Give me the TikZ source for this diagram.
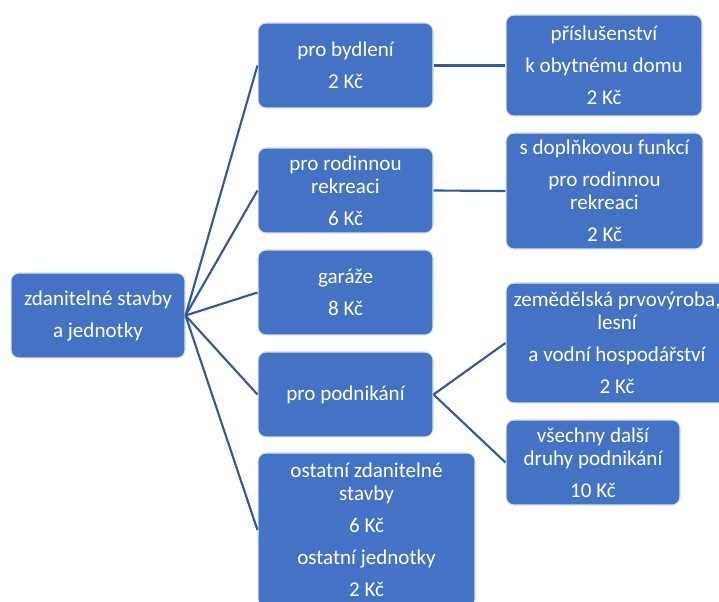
\documentclass[tikz,border=0pt]{standalone}
\usepackage{fontspec}
\setmainfont{Carlito}
\definecolor{blokblue}{RGB}{68,114,196}
\definecolor{linkblue}{RGB}{52,88,160}

\begin{document}
\begin{tikzpicture}[x=0.75pt,y=-0.75pt,
    blok/.style={draw=white!80!blokblue,line width=0.8pt,fill=blokblue,text=white,
      rounded corners=6pt,align=center,inner sep=0pt,
      font=\fontsize{15.8}{17.6}\selectfont},
    spoj/.style={draw=linkblue,line width=1.6pt}]
      \useasboundingbox (0,0) rectangle (719,602);
      \clip (0,0) rectangle (719,602);
      \node[blok,minimum width=130.5pt,minimum height=63.75pt](zdan) at (98,315.5) {zdanitelné stavby\\[6.4pt]a jednotky};
      \node[blok,minimum width=131.25pt,minimum height=63.75pt](byd) at (345.5,65.5) {pro bydlení\\[6.4pt]2 Kč};
      \node[blok,minimum width=131.25pt,minimum height=63.75pt](rek) at (345.5,190.5) {pro rodinnou\\rekreaci\\[6.4pt]6 Kč};
      \node[blok,minimum width=131.25pt,minimum height=63.75pt](gar) at (345.5,292.5) {garáže\\[6.4pt]8 Kč};
      \node[blok,minimum width=131.25pt,minimum height=63.75pt](podn) at (345.5,394.5) {pro podnikání};
      \node[blok,minimum width=162.75pt,minimum height=115.5pt](ost) at (366.5,530) {ostatní zdanitelné\\stavby\\[6.4pt]6 Kč\\[6.4pt]ostatní jednotky\\[6.4pt]2 Kč};
      \node[blok,minimum width=147pt,minimum height=75.75pt](pris) at (604,65.5) {příslušenství\\[6.4pt]k obytnému domu\\[6.4pt]2 Kč};
      \node[blok,minimum width=147.75pt,minimum height=87pt](dopl) at (604.5,191) {s doplňkovou funkcí\\[6.4pt]pro rodinnou\\rekreaci\\[6.4pt]2 Kč};
      \node[blok,minimum width=166.5pt,minimum height=90pt](zem) at (617,343) {zemědělská prvovýroba,\\lesní\\[6.4pt]a vodní hospodářství\\[6.4pt]2 Kč};
      \node[blok,minimum width=130.5pt,minimum height=63.75pt](vse) at (593,462.5) {všechny další\\druhy podnikání\\[6.4pt]10 Kč};
      \path[spoj] (zdan.east) edge (byd.west);
      \path[spoj] (zdan.east) edge (rek.west);
      \path[spoj] (zdan.east) edge (gar.west);
      \path[spoj] (zdan.east) edge (podn.west);
      \path[spoj] (zdan.east) edge (ost.west);
      \path[spoj] (byd.east) edge (pris.west);
      \path[spoj] (rek.east) edge (dopl.west);
      \path[spoj] (podn.east) edge (zem.west);
      \path[spoj] (podn.east) edge (vse.west);
    \end{tikzpicture}
\end{document}
